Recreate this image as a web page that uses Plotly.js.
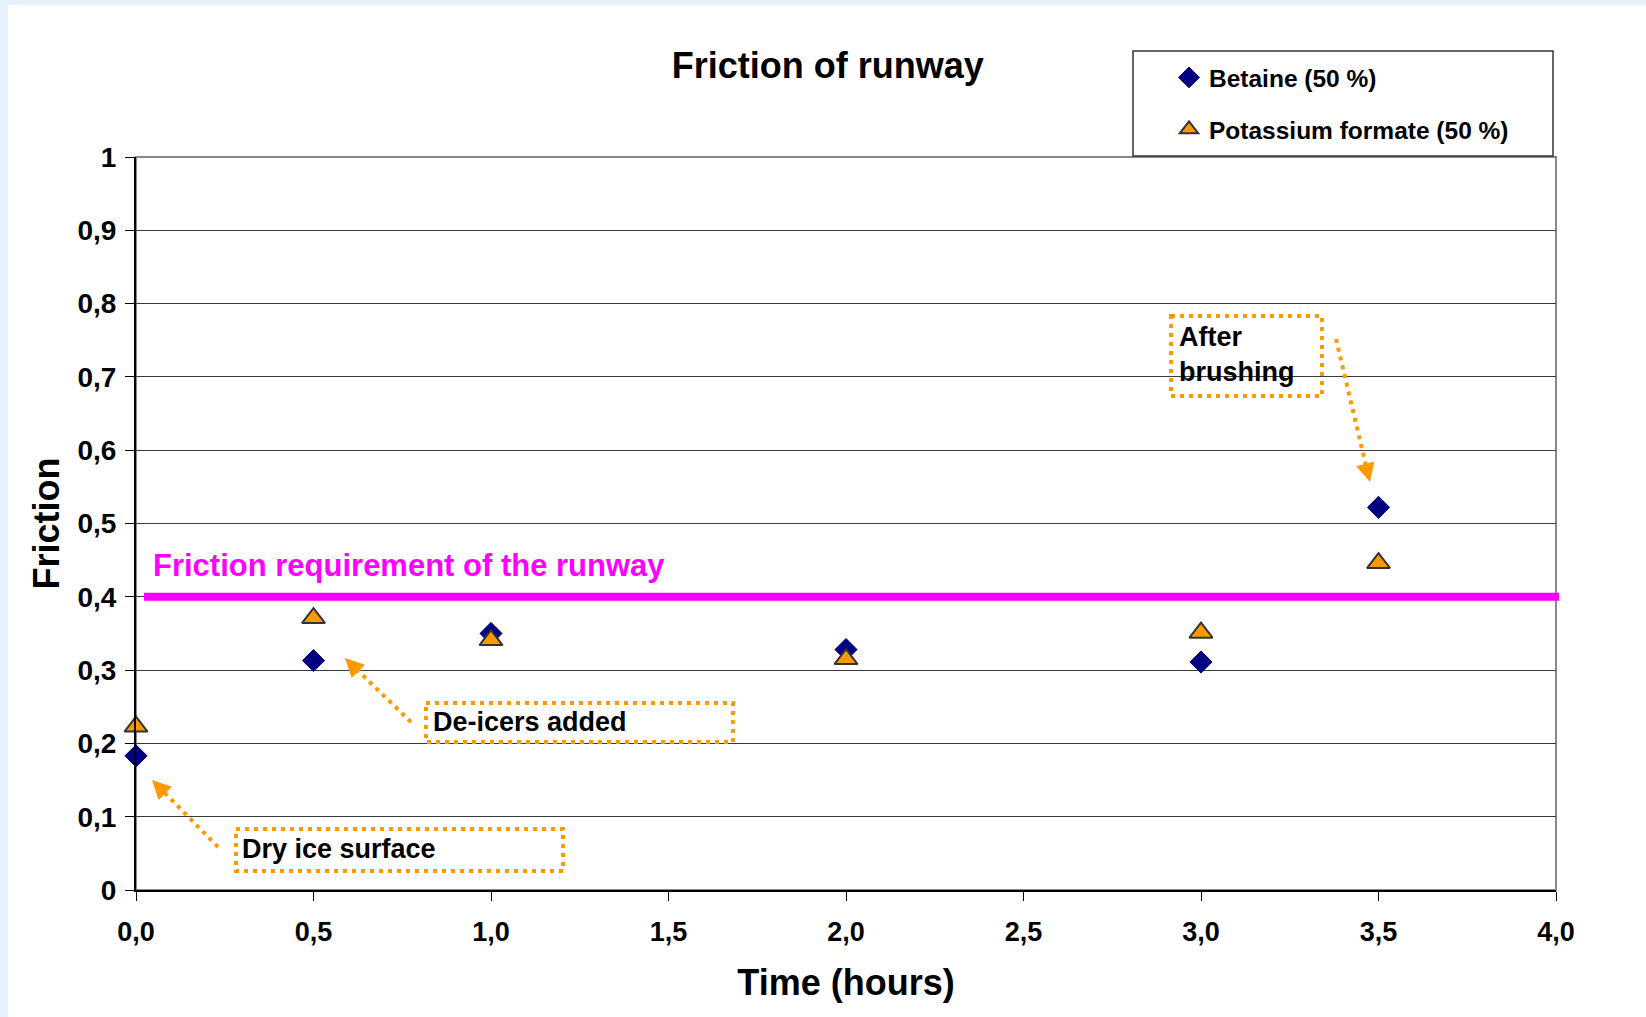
<!DOCTYPE html>
<html>
<head>
<meta charset="utf-8">
<script src="https://cdn.plot.ly/plotly-3.0.1.min.js"></script>
<style>
  html, body { margin: 0; padding: 0; width: 1646px; height: 1017px; overflow: hidden; background: #E5F2FC; }
  #chart { position: absolute; left: 8px; top: 5px; width: 1638px; height: 1012px; }
</style>
</head>
<body>
<div id="chart"></div>
<script>
// ---- data ----
const times = [0.0, 0.5, 1.0, 2.0, 3.0, 3.5];
const betaine = [0.183, 0.313, 0.350, 0.328, 0.311, 0.522];
const potassium = [0.223, 0.371, 0.341, 0.315, 0.351, 0.446];
const seriesNames = ['Betaine (50 %)', 'Potassium formate (50 %)'];
const requirement = 0.4;
const requirementLabel = 'Friction requirement of the runway';
const xTickVals = [0, 0.5, 1.0, 1.5, 2.0, 2.5, 3.0, 3.5, 4.0];
const yTickVals = [0, 0.1, 0.2, 0.3, 0.4, 0.5, 0.6, 0.7, 0.8, 0.9, 1];
const noteDry = 'Dry ice surface';
const noteDeicers = 'De-icers added';
const noteBrushing = 'After<br>brushing';

// ---- layout helpers (page pixel -> paper) ----
const OX = 8, OY = 5;             // div offset on page
const ML = 128, MR = 90, MT = 152, MB = 127;
const DW = 1638, DH = 1012;
const PW = DW - ML - MR, PH = DH - MT - MB;
const px = p => (p - OX - ML) / PW;
const py = p => 1 - (p - OY - MT) / PH;

const FONT = 'Liberation Sans, Arial, Helvetica, sans-serif';
const ORANGE = '#FF9900';
const DOT = '4px,5px';

const traces = [
  {
    x: times, y: betaine, name: seriesNames[0], type: 'scatter', mode: 'markers',
    legendgroup: 'a', cliponaxis: false,
    marker: { symbol: 'diamond', size: 17, color: '#000080', line: { color: '#000080', width: 1 } }
  },
  {
    x: times, y: potassium, name: seriesNames[1], type: 'scatter', mode: 'markers',
    legendgroup: 'b', cliponaxis: false,
    marker: { symbol: 'triangle-up', size: 20, color: ORANGE, line: { color: '#333333', width: 2 } }
  }
];

function dotRect(x0, y0, x1, y1) {
  return { type: 'rect', xref: 'paper', yref: 'paper', x0: px(x0), x1: px(x1), y0: py(y0), y1: py(y1),
           line: { color: ORANGE, width: 4, dash: DOT }, fillcolor: 'rgba(0,0,0,0)' };
}
function dotLine(x0, y0, x1, y1) {
  return { type: 'line', xref: 'paper', yref: 'paper', x0: px(x0), x1: px(x1), y0: py(y0), y1: py(y1),
           line: { color: ORANGE, width: 4, dash: DOT } };
}
function head(x, y, ax, ay) {
  return { xref: 'paper', yref: 'paper', x: px(x), y: py(y), ax: ax, ay: ay, text: '',
           showarrow: true, arrowhead: 2, arrowsize: 1.25, arrowwidth: 3, arrowcolor: ORANGE };
}
function note(text, x, y, size, color) {
  return { xref: 'paper', yref: 'paper', x: px(x), y: py(y), xanchor: 'left', yanchor: 'middle',
           text: text, showarrow: false, align: 'left',
           font: { family: FONT, size: size, color: color || '#000', weight: 'bold' } };
}

const shapes = [
  // plot frame (gray)
  { type: 'rect', xref: 'paper', yref: 'paper', x0: 0, x1: 1, y0: 0, y1: 1, layer: 'below',
    line: { color: '#888888', width: 2 } },
  // legend frame
  { type: 'rect', xref: 'paper', yref: 'paper', x0: px(1133), x1: px(1553), y0: py(156), y1: py(51),
    line: { color: '#333333', width: 1.5 }, fillcolor: 'white' },
  // requirement line
  { type: 'line', xref: 'paper', yref: 'y', x0: px(144), x1: px(1559), y0: requirement, y1: requirement,
    line: { color: '#FF00FF', width: 8 } },
  dotRect(236, 829, 563, 871),
  dotRect(426, 703, 733, 742),
  dotRect(1171, 316, 1322, 396),
  dotLine(218, 847, 158, 786),
  dotLine(411, 722, 351, 664),
  dotLine(1336, 339, 1367, 470)
];

const annotations = [
  note(requirementLabel, 151, 565, 31, '#FF00FF'),
  note(noteDry, 240, 849, 27),
  note(noteDeicers, 431, 722, 27),
  note(noteBrushing, 1177, 354, 27),
  head(152, 780, 14, 14),
  head(345, 658, 14, 14),
  head(1370, 482, -5, -19)
];

const layout = {
  width: DW, height: DH,
  margin: { l: ML, r: MR, t: MT, b: MB, pad: 0 },
  paper_bgcolor: 'white', plot_bgcolor: 'white',
  separators: ',.',
  font: { family: FONT, color: '#000' },
  title: { text: 'Friction of runway', x: 0.5005, xref: 'container', xanchor: 'center',
           y: 1 - 60 / DH, yref: 'container', yanchor: 'middle',
           font: { family: FONT, size: 36, weight: 'bold', color: '#000' } },
  xaxis: {
    range: [0, 4], tickvals: xTickVals, tickformat: '.1f',
    ticks: 'outside', ticklen: 9, tickwidth: 1, tickcolor: '#000',
    showline: true, linecolor: '#000', linewidth: 2, showgrid: false, zeroline: false,
    ticklabelstandoff: 8,
    tickfont: { family: FONT, size: 27, weight: 'bold', color: '#000' },
    title: { text: 'Time (hours)', standoff: 23, font: { family: FONT, size: 36, weight: 'bold', color: '#000' } },
    automargin: false
  },
  yaxis: {
    range: [0, 1], tickvals: yTickVals,
    ticks: 'outside', ticklen: 9, tickwidth: 1, tickcolor: '#000',
    showline: true, linecolor: '#000', linewidth: 2, showgrid: true, gridcolor: '#3a3a3a', gridwidth: 1,
    zeroline: false, ticklabelstandoff: 3,
    tickfont: { family: FONT, size: 28, weight: 'bold', color: '#000' },
    title: { text: 'Friction', standoff: 7, font: { family: FONT, size: 36, weight: 'bold', color: '#000' } },
    automargin: false
  },
  showlegend: true,
  legend: {
    x: px(1169), xanchor: 'left', y: py(55), yanchor: 'top',
    bgcolor: 'rgba(0,0,0,0)', borderwidth: 0, traceorder: 'grouped', tracegroupgap: 17,
    font: { family: FONT, size: 24.5, weight: 'bold', color: '#000' }
  },
  shapes: shapes,
  annotations: annotations
};

Plotly.newPlot('chart', traces, layout, { displayModeBar: false, staticPlot: true });
</script>
</body>
</html>
